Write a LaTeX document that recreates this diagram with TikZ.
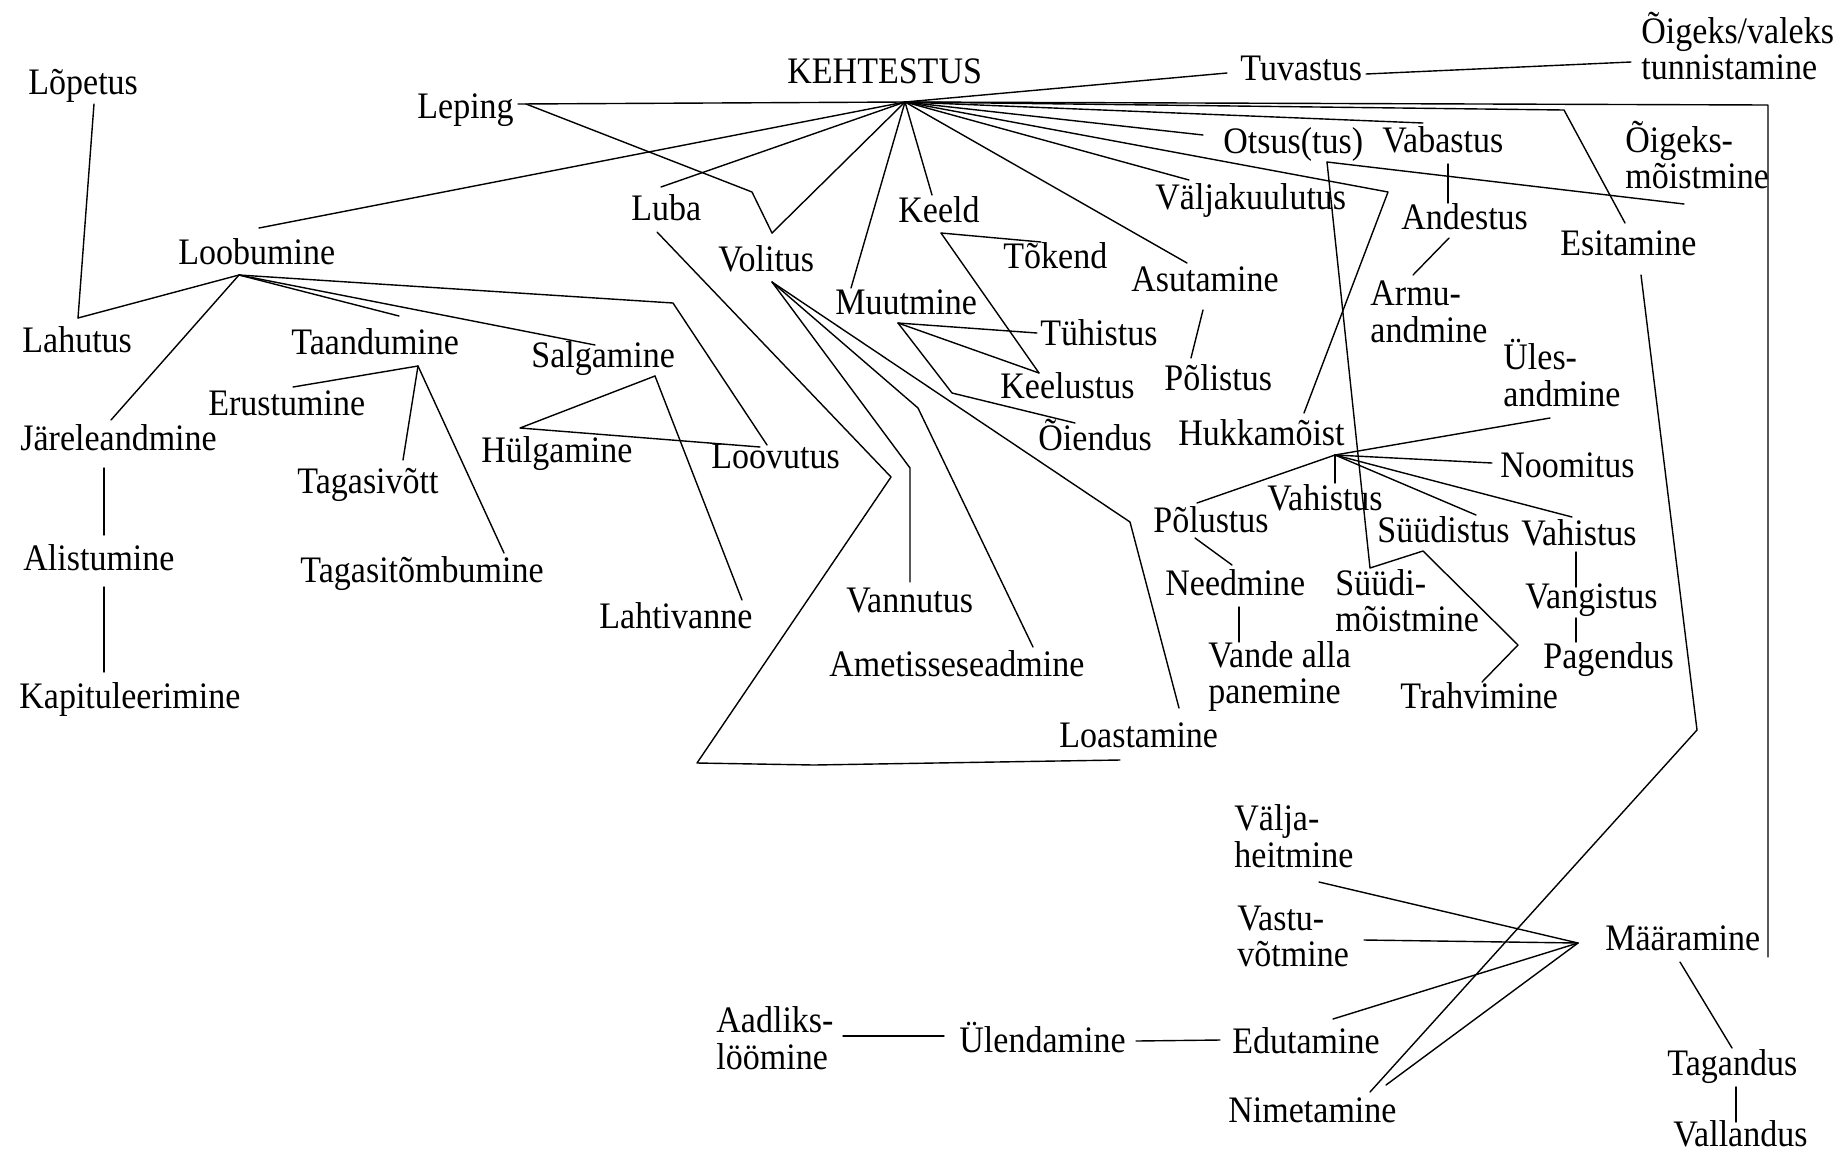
\documentclass[tikz,border=0pt]{standalone}
\usepackage{graphicx}
\usepackage{fontspec}
\setmainfont{Liberation Serif}
% label text: slightly tall serif, lines set left-aligned, baseline = first line
\newcommand\lbltext[1]{\scalebox{1}[1.1]{\begin{tabular}[t]{@{}l@{}}#1\end{tabular}}}
\tikzset{
  lbl/.style={anchor=base west, inner sep=0pt, font=\fontsize{17}{16.8}\selectfont},
  ln/.style={line width=0.7pt, line join=round, line cap=round},
}
\begin{document}
\begin{tikzpicture}[x=0.5pt, y=-0.5pt]
\fill[white] (0,0) rectangle (1841,1152);
\useasboundingbox (0,0) rectangle (1841,1152);

% ---------- labels ----------
\node[lbl] (n-kehtestus)      at (787,83)   {\lbltext{KEHTESTUS}};
\node[lbl] (n-lopetus)        at (28,94)    {\lbltext{Lõpetus}};
\node[lbl] (n-leping)         at (417,118)  {\lbltext{Leping}};
\node[lbl] (n-loobumine)      at (178,264)  {\lbltext{Loobumine}};
\node[lbl] (n-lahutus)        at (22,352)   {\lbltext{Lahutus}};
\node[lbl] (n-taandumine)     at (291,354)  {\lbltext{Taandumine}};
\node[lbl] (n-salgamine)      at (531,367)  {\lbltext{Salgamine}};
\node[lbl] (n-erustumine)     at (208,415)  {\lbltext{Erustumine}};
\node[lbl] (n-jareleandmine)  at (20,450)   {\lbltext{Järeleandmine}};
\node[lbl] (n-hulgamine)      at (481,462)  {\lbltext{Hülgamine}};
\node[lbl] (n-loovutus)       at (711,468)  {\lbltext{Loovutus}};
\node[lbl] (n-tagasivott)     at (297,493)  {\lbltext{Tagasivõtt}};
\node[lbl] (n-alistumine)     at (23,570)   {\lbltext{Alistumine}};
\node[lbl] (n-tagasitombumine) at (300,582) {\lbltext{Tagasitõmbumine}};
\node[lbl] (n-lahtivanne)     at (599,628)  {\lbltext{Lahtivanne}};
\node[lbl] (n-kapituleerimine) at (19,708)  {\lbltext{Kapituleerimine}};
\node[lbl] (n-luba)           at (631,220)  {\lbltext{Luba}};
\node[lbl] (n-volitus)        at (718,271)  {\lbltext{Volitus}};
\node[lbl] (n-keeld)          at (898,222)  {\lbltext{Keeld}};
\node[lbl] (n-tokend)         at (1003,268) {\lbltext{Tõkend}};
\node[lbl] (n-muutmine)       at (835,314)  {\lbltext{Muutmine}};
\node[lbl] (n-tuhistus)       at (1040,345) {\lbltext{Tühistus}};
\node[lbl] (n-keelustus)      at (1000,398) {\lbltext{Keelustus}};
\node[lbl] (n-oiendus)        at (1038,450) {\lbltext{Õiendus}};
\node[lbl] (n-vannutus)       at (846,612)  {\lbltext{Vannutus}};
\node[lbl] (n-ametisse)       at (829,676)  {\lbltext{Ametisseseadmine}};
\node[lbl] (n-loastamine)     at (1059,747) {\lbltext{Loastamine}};
\node[lbl] (n-tuvastus)       at (1240,80)  {\lbltext{Tuvastus}};
\node[lbl] (n-oigeksvaleks)   at (1641,43)  {\lbltext{Õigeks/valeks\\tunnistamine}};
\node[lbl] (n-otsus)          at (1223,153) {\lbltext{Otsus(tus)}};
\node[lbl] (n-vabastus)       at (1382,152) {\lbltext{Vabastus}};
\node[lbl] (n-oigeksm)        at (1625,152) {\lbltext{Õigeks-\\mõistmine}};
\node[lbl] (n-valjakuulutus)  at (1155,209) {\lbltext{Väljakuulutus}};
\node[lbl] (n-andestus)       at (1401,229) {\lbltext{Andestus}};
\node[lbl] (n-esitamine)      at (1560,255) {\lbltext{Esitamine}};
\node[lbl] (n-asutamine)      at (1131,291) {\lbltext{Asutamine}};
\node[lbl] (n-armu)           at (1370,305) {\lbltext{Armu-\\andmine}};
\node[lbl] (n-polistus)       at (1164,390) {\lbltext{Põlistus}};
\node[lbl] (n-ules)           at (1503,369) {\lbltext{Üles-\\andmine}};
\node[lbl] (n-hukkamoist)     at (1178,445) {\lbltext{Hukkamõist}};
\node[lbl] (n-noomitus)       at (1500,477) {\lbltext{Noomitus}};
\node[lbl] (n-vahistusl)      at (1267,510) {\lbltext{Vahistus}};
\node[lbl] (n-polustus)       at (1153,532) {\lbltext{Põlustus}};
\node[lbl] (n-suudistus)      at (1377,542) {\lbltext{Süüdistus}};
\node[lbl] (n-vahistusr)      at (1521,545) {\lbltext{Vahistus}};
\node[lbl] (n-needmine)       at (1165,595) {\lbltext{Needmine}};
\node[lbl] (n-suudi)          at (1335,595) {\lbltext{Süüdi-\\mõistmine}};
\node[lbl] (n-vangistus)      at (1525,608) {\lbltext{Vangistus}};
\node[lbl] (n-vande)          at (1208,667) {\lbltext{Vande alla\\panemine}};
\node[lbl] (n-pagendus)       at (1543,668) {\lbltext{Pagendus}};
\node[lbl] (n-trahvimine)     at (1400,708) {\lbltext{Trahvimine}};
\node[lbl] (n-valja)          at (1234,830) {\lbltext{Välja-\\heitmine}};
\node[lbl] (n-vastu)          at (1237,930) {\lbltext{Vastu-\\võtmine}};
\node[lbl] (n-maaramine)      at (1605,950) {\lbltext{Määramine}};
\node[lbl] (n-aadliks)        at (716,1032) {\lbltext{Aadliks-\\löömine}};
\node[lbl] (n-ulendamine)     at (959,1052) {\lbltext{Ülendamine}};
\node[lbl] (n-edutamine)      at (1232,1053) {\lbltext{Edutamine}};
\node[lbl] (n-tagandus)       at (1667,1075) {\lbltext{Tagandus}};
\node[lbl] (n-nimetamine)     at (1228,1122) {\lbltext{Nimetamine}};
\node[lbl] (n-vallandus)      at (1673,1146) {\lbltext{Vallandus}};

% ---------- junction points and line ends ----------
\coordinate (K) at (905,102);       % KEHTESTUS hub
\coordinate (L) at (239,275);       % Loobumine hub
\coordinate (T) at (418,366);       % Taandumine hub
\coordinate (S) at (655,376);       % Salgamine hub
\coordinate (H) at (1335,455);      % Hukkamõist hub
\coordinate (M) at (1578,943);      % Määramine hub
\coordinate (MU) at (898,323);      % Muutmine hub
\coordinate (VB) at (772,282);      % Volitus hub

\coordinate (c-leping-r) at (518,104);
\coordinate (c-leping-d) at (526,104);
\coordinate (c-lep1) at (752,192);
\coordinate (c-volitus-t) at (772,233);
\coordinate (c-loob-k) at (259,228);
\coordinate (c-luba-t) at (661,187);
\coordinate (c-luba-b) at (657,232);
\coordinate (c-luba1) at (891,477);
\coordinate (c-luba2) at (697,763);
\coordinate (c-luba3) at (814,765);
\coordinate (c-luba4) at (1057,761);
\coordinate (c-loast-b) at (1120,760);
\coordinate (c-muut-t) at (851,288);
\coordinate (c-keeld-t) at (932,195);
\coordinate (c-keeld-b) at (941,233);
\coordinate (c-tokend) at (1041,242);
\coordinate (c-keelus-t) at (1039,373);
\coordinate (c-tuhis) at (1037,333);
\coordinate (c-oi1) at (952,393);
\coordinate (c-oiend-t) at (1075,423);
\coordinate (c-asut-t) at (1187,263);
\coordinate (c-asut-b) at (1203,310);
\coordinate (c-polis-t) at (1191,358);
\coordinate (c-valjak) at (1189,180);
\coordinate (c-tuv-l) at (1227,73);
\coordinate (c-tuv-r) at (1366,74);
\coordinate (c-oigv-l) at (1631,62);
\coordinate (c-otsus-l) at (1203,135);
\coordinate (c-vab-t) at (1423,123);
\coordinate (c-esit1) at (1564,110);
\coordinate (c-esit-t) at (1625,223);
\coordinate (c-esit-b) at (1641,275);
\coordinate (c-esit2) at (1697,730);
\coordinate (c-nim-t2) at (1370,1092);
\coordinate (c-maar1) at (1768,105);
\coordinate (c-maar-r) at (1768,957);
\coordinate (c-huk1) at (1388,192);
\coordinate (c-huk-t) at (1304,413);
\coordinate (c-otsus-b) at (1327,162);
\coordinate (c-oigm) at (1684,204);
\coordinate (c-suu1) at (1370,568);
\coordinate (c-suud-b) at (1423,551);
\coordinate (c-tr1) at (1518,645);
\coordinate (c-trahv-t) at (1482,682);
\coordinate (c-vab-b) at (1448,164);
\coordinate (c-andes-t) at (1448,203);
\coordinate (c-andes-b) at (1449,238);
\coordinate (c-armu-t) at (1413,275);
\coordinate (c-ules) at (1550,418);
\coordinate (c-noom) at (1492,463);
\coordinate (c-vahr) at (1572,517);
\coordinate (c-suud-t) at (1476,515);
\coordinate (c-vahl) at (1335,483);
\coordinate (c-polus-t) at (1197,503);
\coordinate (c-polus-b) at (1195,538);
\coordinate (c-needm-t) at (1232,565);
\coordinate (c-needm-b) at (1239,607);
\coordinate (c-vande-t) at (1239,642);
\coordinate (c-vahr-b) at (1576,552);
\coordinate (c-vang-t) at (1576,587);
\coordinate (c-vang-b) at (1576,618);
\coordinate (c-pag-t) at (1576,642);
\coordinate (c-lahutus) at (78,318);
\coordinate (c-lopetus) at (94,104);
\coordinate (c-jarel) at (111,420);
\coordinate (c-taand-t) at (399,316);
\coordinate (c-salg-t) at (595,345);
\coordinate (c-loov1) at (673,303);
\coordinate (c-loov-t) at (767,445);
\coordinate (c-jarel-b) at (104,468);
\coordinate (c-alis-t) at (104,535);
\coordinate (c-alis-b) at (104,587);
\coordinate (c-kapit-t) at (104,672);
\coordinate (c-hulg) at (520,428);
\coordinate (c-loov-t2) at (760,447);
\coordinate (c-lahtiv) at (742,600);
\coordinate (c-erust) at (293,387);
\coordinate (c-tagv) at (403,460);
\coordinate (c-tagt) at (504,553);
\coordinate (c-vann1) at (910,468);
\coordinate (c-vann-t) at (910,582);
\coordinate (c-amet1) at (918,408);
\coordinate (c-amet-t) at (1033,647);
\coordinate (c-loast1) at (1130,522);
\coordinate (c-loast-t) at (1179,708);
\coordinate (c-aad-r) at (843,1036);
\coordinate (c-ul-l) at (944,1036);
\coordinate (c-ul-r) at (1136,1041);
\coordinate (c-edu-l) at (1220,1040);
\coordinate (c-valja-b) at (1319,882);
\coordinate (c-vastu-r) at (1364,940);
\coordinate (c-edu-t) at (1333,1019);
\coordinate (c-nim-t) at (1386,1085);
\coordinate (c-maar-b) at (1680,962);
\coordinate (c-tag-t) at (1732,1048);
\coordinate (c-tag-b) at (1736,1087);
\coordinate (c-vall-t) at (1736,1122);

% ---------- connectors ----------
% from KEHTESTUS
\draw[ln] (K) -- (c-leping-r);
\draw[ln] (K) -- (c-loob-k);
\draw[ln] (K) -- (c-luba-t);
\draw[ln] (K) -- (c-volitus-t);
\draw[ln] (K) -- (c-muut-t);
\draw[ln] (K) -- (c-keeld-t);
\draw[ln] (K) -- (c-asut-t);
\draw[ln] (K) -- (c-valjak);
\draw[ln] (K) -- (c-tuv-l);
\draw[ln] (K) -- (c-otsus-l);
\draw[ln] (K) -- (c-vab-t);
\draw[ln] (K) -- (c-esit1) -- (c-esit-t);
\draw[ln] (K) -- (c-maar1) -- (c-maar-r);
\draw[ln] (K) -- (c-huk1) -- (c-huk-t);

% Leping, Luba, Volitus
\draw[ln] (c-leping-d) -- (c-lep1) -- (c-volitus-t);
\draw[ln] (c-luba-b) -- (c-luba1) -- (c-luba2) -- (c-luba3) -- (c-luba4) -- (c-loast-b);
\draw[ln] (VB) -- (c-vann1) -- (c-vann-t);
\draw[ln] (VB) -- (c-amet1) -- (c-amet-t);
\draw[ln] (VB) -- (c-loast1) -- (c-loast-t);

% Keeld, Muutmine
\draw[ln] (c-keeld-b) -- (c-tokend);
\draw[ln] (c-keeld-b) -- (c-keelus-t);
\draw[ln] (MU) -- (c-tuhis);
\draw[ln] (MU) -- (c-keelus-t);
\draw[ln] (MU) -- (c-oi1) -- (c-oiend-t);

% Asutamine
\draw[ln] (c-asut-b) -- (c-polis-t);

% Tuvastus
\draw[ln] (c-tuv-r) -- (c-oigv-l);

% Otsus(tus)
\draw[ln] (c-otsus-b) -- (c-oigm);
\draw[ln] (c-otsus-b) -- (c-suu1) -- (c-suud-b) -- (c-tr1) -- (c-trahv-t);

% Vabastus, Andestus
\draw[ln] (c-vab-b) -- (c-andes-t);
\draw[ln] (c-andes-b) -- (c-armu-t);

% Esitamine
\draw[ln] (c-esit-b) -- (c-esit2) -- (c-nim-t2);

% Hukkamõist
\draw[ln] (H) -- (c-ules);
\draw[ln] (H) -- (c-noom);
\draw[ln] (H) -- (c-vahr);
\draw[ln] (H) -- (c-suud-t);
\draw[ln] (H) -- (c-vahl);
\draw[ln] (H) -- (c-polus-t);
\draw[ln] (c-polus-b) -- (c-needm-t);
\draw[ln] (c-needm-b) -- (c-vande-t);
\draw[ln] (c-vahr-b) -- (c-vang-t);
\draw[ln] (c-vang-b) -- (c-pag-t);

% Loobumine
\draw[ln] (c-lopetus) -- (c-lahutus);
\draw[ln] (L) -- (c-lahutus);
\draw[ln] (L) -- (c-jarel);
\draw[ln] (L) -- (c-taand-t);
\draw[ln] (L) -- (c-salg-t);
\draw[ln] (L) -- (c-loov1) -- (c-loov-t);
\draw[ln] (c-jarel-b) -- (c-alis-t);
\draw[ln] (c-alis-b) -- (c-kapit-t);

% Salgamine
\draw[ln] (S) -- (c-hulg) -- (c-loov-t2);
\draw[ln] (S) -- (c-lahtiv);

% Taandumine
\draw[ln] (T) -- (c-erust);
\draw[ln] (T) -- (c-tagv);
\draw[ln] (T) -- (c-tagt);

% bottom row
\draw[ln] (c-aad-r) -- (c-ul-l);
\draw[ln] (c-ul-r) -- (c-edu-l);

% Määramine
\draw[ln] (M) -- (c-valja-b);
\draw[ln] (M) -- (c-vastu-r);
\draw[ln] (M) -- (c-edu-t);
\draw[ln] (M) -- (c-nim-t);
\draw[ln] (c-maar-b) -- (c-tag-t);
\draw[ln] (c-tag-b) -- (c-vall-t);
\end{tikzpicture}
\end{document}
